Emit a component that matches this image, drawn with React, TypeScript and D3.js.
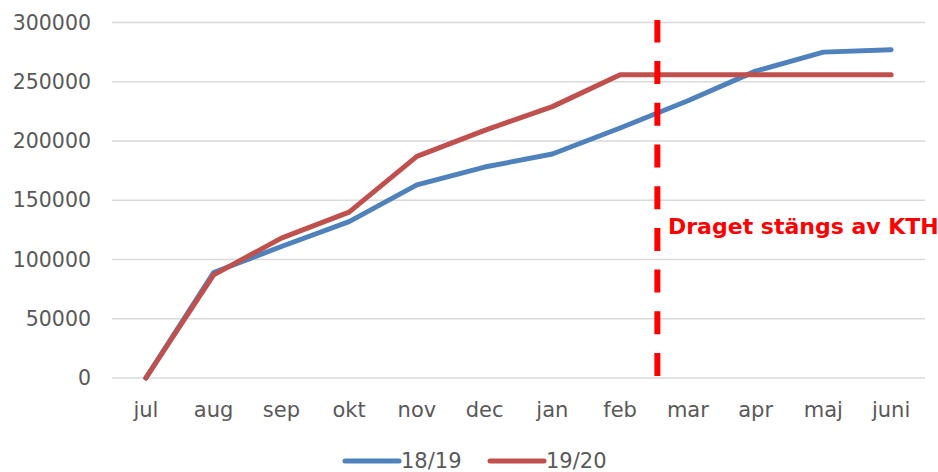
import React from "react";
import * as d3 from "d3";

const months = ["jul", "aug", "sep", "okt", "nov", "dec", "jan", "feb", "mar", "apr", "maj", "juni"];
const season1819 = [0, 89000, 111000, 132000, 163000, 178000, 189000, 211000, 234000, 259000, 275000, 277000];
const season1920 = [0, 87000, 118000, 140000, 187000, 209000, 229000, 256000, 256000, 256000, 256000, 256000];
const yTicks = [0, 50000, 100000, 150000, 200000, 250000, 300000];
const seriesNames = ["18/19", "19/20"];
const seriesColors = ["#4F81BD", "#C0504D"];
const annotation = "Draget stängs av KTH";

const width = 938;
const height = 472;
const font = "'DejaVu Sans', sans-serif";

export default function App() {
  const x = d3.scalePoint<string>().domain(months).range([112, 925]).padding(0.5);
  const y = d3.scaleLinear().domain([0, 300000]).range([378, 22.5]);

  const line = d3
    .line<number>()
    .x((_, i) => x(months[i])!)
    .y((d) => y(d));

  const series = [season1819, season1920];
  // closure line sits a little past the feb point
  const cutX = x("feb")! + x.step() * 0.55;

  return (
    <svg
      width={width}
      height={height}
      style={{ position: "absolute", left: 0, top: 0, background: "#fff" }}
      fontFamily={font}
    >
      {/* grid */}
      {yTicks.map((t) => (
        <line key={t} x1={112} x2={925} y1={y(t)} y2={y(t)} stroke="#D9D9D9" strokeWidth={1.3} />
      ))}
      {yTicks.map((t) => (
        <text key={"l" + t} x={91} y={y(t)} dy="0.35em" textAnchor="end" fontSize={20.5} fill="#595959">
          {t}
        </text>
      ))}
      {months.map((m) => (
        <text key={m} x={x(m)} y={417} textAnchor="middle" fontSize={21} fill="#595959">
          {m}
        </text>
      ))}

      {series.map((s, i) => (
        <path
          key={i}
          d={line(s)!}
          fill="none"
          stroke={seriesColors[i]}
          strokeWidth={5}
          strokeLinecap="round"
          strokeLinejoin="round"
        />
      ))}

      <line
        x1={cutX}
        x2={cutX}
        y1={376}
        y2={20}
        stroke="#FF0000"
        strokeWidth={6}
        strokeDasharray="23 18.7"
      />
      <text x={668} y={234} fontSize={22} fontWeight="bold" fill="#FF0000">
        {annotation}
      </text>

      {/* legend */}
      {seriesNames.map((n, i) => {
        const lx = 345 + i * 145;
        return (
          <g key={n}>
            <line x1={lx} x2={lx + 54} y1={461} y2={461} stroke={seriesColors[i]} strokeWidth={5} strokeLinecap="round" />
            <text x={lx + 56} y={461} dy="0.35em" fontSize={21} fill="#595959">
              {n}
            </text>
          </g>
        );
      })}
    </svg>
  );
}
